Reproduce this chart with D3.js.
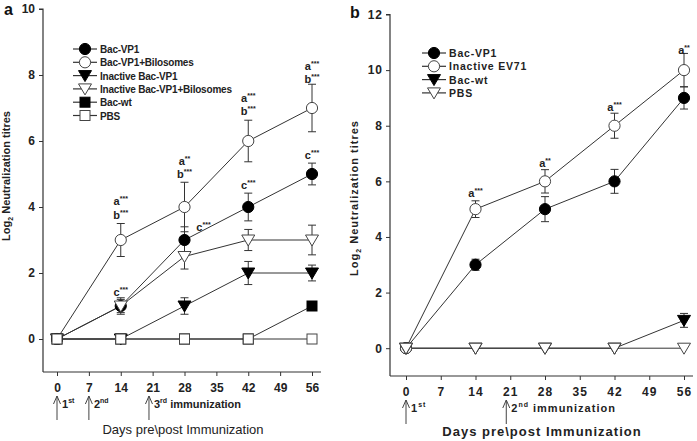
<!DOCTYPE html>
<html><head><meta charset="utf-8">
<script src="https://cdn.jsdelivr.net/npm/d3@7"></script>
<style>body{margin:0;background:#fff}svg{display:block}text{font-family:"Liberation Sans",Arial,sans-serif;fill:#222}</style>
</head><body><svg id="c" width="697" height="441"></svg>
<script>
// ---- data ----
const days = [0, 14, 28, 42, 56];
const xTicks = [0, 7, 14, 21, 28, 35, 42, 49, 56];
const yTicksA = [0, 2, 4, 6, 8, 10];
const yTicksB = [0, 2, 4, 6, 8, 10, 12];

// panel a
const aNames = ["Bac-VP1", "Bac-VP1+Bilosomes", "Inactive Bac-VP1", "Inactive Bac-VP1+Bilosomes", "Bac-wt", "PBS"];
const aBacVP1 = [0, 1, 3, 4, 5];
const aBacVP1Err = [0, 0.2, 0.4, 0.42, 0.33];
const aBacVP1Bil = [0, 3, 4, 6, 7];
const aBacVP1BilErr = [0, 0.5, 0.75, 0.63, 0.72];
const aInact = [0, 0, 1, 2, 2];
const aInactErr = [0, 0, 0.25, 0.35, 0.24];
const aInactBil = [0, 1, 2.5, 3, 3];
const aInactBilErr = [0, 0.25, 0.38, 0.32, 0.45];
const aBacWt = [0, 0, 0, 0, 1];
const aBacWtErr = [0, 0, 0, 0, 0];
const aPBS = [0, 0, 0, 0, 0];
const aPBSErr = [0, 0, 0, 0, 0];
// significance labels: [day, y (data units), letter, stars]
const aSig = [
  [14, 4.18, "a", "***"], [14, 3.76, "b", "***"], [14, 1.42, "c", "***"],
  [28, 5.4, "a", "**"], [28, 5.0, "b", "***"], [30.6, 3.39, "c", "***"],
  [42, 7.3, "a", "***"], [42, 6.9, "b", "***"], [42, 4.67, "c", "***"],
  [56, 8.28, "a", "***"], [56, 7.88, "b", "***"], [56, 5.58, "c", "***"]
];
const aImmun = [[0, "1", "st", ""], [7, "2", "nd", ""], [20.2, "3", "rd", " immunization"]];

// panel b
const bNames = ["Bac-VP1", "Inactive EV71", "Bac-wt", "PBS"];
const bBacVP1 = [0, 3, 5, 6, 9];
const bBacVP1Err = [0, 0.2, 0.45, 0.43, 0.4];
const bEV71 = [0, 5, 6, 8, 10];
const bEV71Err = [0, 0.3, 0.42, 0.45, 0.6];
const bBacWt = [0, 0, 0, 0, 1];
const bBacWtErr = [0, 0, 0, 0, 0.25];
const bPBS = [0, 0, 0, 0, 0];
const bPBSErr = [0, 0, 0, 0, 0];
const bSig = [[14, 5.59, "a", "***"], [28, 6.67, "a", "**"], [42, 8.69, "a", "***"], [56, 10.74, "a", "**"]];
const bImmun = [[0, "1", "st", ""], [20.2, "2", "nd", " immunization"]];

const svg = d3.select("#c");
const INK = "#333";

function drawMarker(g, type, x, y) {
  const s = 5.6;
  let el;
  if (type === "circle") el = g.append("circle").attr("cx", x).attr("cy", y).attr("r", s);
  else if (type === "square") el = g.append("rect").attr("x", x - 5).attr("y", y - 5).attr("width", 10).attr("height", 10);
  else el = g.append("path").attr("d", `M${x - 6.5},${y - 5}L${x + 6.5},${y - 5}L${x},${y + 6}Z`);
  return el;
}

function panel(cfg) {
  const g = svg.append("g");
  const x = d3.scaleLinear().domain([0, 56]).range(cfg.xr);
  const y = d3.scaleLinear().domain(cfg.yd).range(cfg.yr);
  const font = cfg.spacing;
  // axes
  const ay = g.append("g").attr("transform", `translate(${cfg.axX},0)`)
    .call(d3.axisLeft(y).tickValues(cfg.yTicks).tickSize(4).tickPadding(cfg.yPad));
  const ax = g.append("g").attr("transform", `translate(0,${cfg.yr[0]})`)
    .call(d3.axisBottom(x).tickValues(xTicks).tickSize(4).tickPadding(7));
  [ay, ax].forEach(a => {
    a.select(".domain").attr("stroke", INK).attr("stroke-width", 1.2);
    a.selectAll(".tick line").attr("stroke", INK);
    a.selectAll("text").style("font-size", "12px").style("font-weight", "bold")
      .style("fill", "#222").style("font-family", '"Liberation Sans",Arial,sans-serif')
      .style("letter-spacing", font);
  });
  ay.select(".domain").attr("d", `M-4,${y(cfg.yd[1])}H0V${cfg.yr[0]}`);
  ax.select(".domain").attr("d", `M${cfg.axX},0H${cfg.axR}`);

  // series
  cfg.series.forEach(s => {
    const pts = days.map((d, i) => [x(d), y(s.v[i])]);
    g.append("path").attr("d", d3.line()(pts))
      .attr("fill", "none").attr("stroke", INK).attr("stroke-width", 1);
  });
  cfg.series.forEach(s => {
    days.forEach((d, i) => {
      const e = s.e[i];
      if (e > 0) {
        const px = x(d), t = y(s.v[i] + e), b = y(s.v[i] - e);
        g.append("path").attr("d", `M${px},${t}V${b}M${px - 4},${t}H${px + 4}M${px - 4},${b}H${px + 4}`)
          .attr("stroke", INK).attr("stroke-width", 1).attr("fill", "none");
      }
    });
  });
  cfg.series.forEach(s => {
    days.forEach((d, i) => {
      drawMarker(g, s.type, x(d), y(s.v[i])).attr("fill", s.fill ? "#000" : "#fff")
        .attr("stroke", s.fill ? "#000" : "#444").attr("stroke-width", 1);
    });
  });

  // significance labels
  cfg.sig.forEach(([d, v, l, st]) => {
    const t = g.append("text").attr("x", x(d)).attr("y", y(v) + 4)
      .attr("text-anchor", cfg.sigAnchor(d)).style("font-size", "11px").style("font-weight", "bold");
    t.append("tspan").text(l);
    t.append("tspan").attr("dy", -4).style("font-size", "7px").text(st);
  });

  // legend
  cfg.names.forEach((n, i) => {
    const s = cfg.series[i];
    const ly = cfg.legY + i * 13.3;
    g.append("line").attr("x1", cfg.legX).attr("x2", cfg.legX + 24).attr("y1", ly).attr("y2", ly)
      .attr("stroke", INK).attr("stroke-width", 1.2);
    drawMarker(g, s.type, cfg.legX + 12, ly).attr("fill", s.fill ? "#000" : "#fff")
      .attr("stroke", s.fill ? "#000" : "#444");
    g.append("text").attr("x", cfg.legX + 27).attr("y", ly + 4).text(n)
      .style("font-size", cfg.legFont).style("font-weight", "bold").style("letter-spacing", cfg.legSpacing);
  });

  // immunization arrows
  cfg.immun.forEach(([d, num, sup, rest]) => {
    const px = x(d);
    g.append("path").attr("d", `M${px},${cfg.arrY}V${cfg.arrY + 24}M${px - 3.5},${cfg.arrY + 8}L${px},${cfg.arrY}L${px + 3.5},${cfg.arrY + 8}`)
      .attr("stroke", "#444").attr("fill", "none").attr("stroke-width", 1);
    const t = g.append("text").attr("x", px + 5).attr("y", cfg.arrY + 12)
      .style("font-size", "11px").style("font-weight", "bold").style("letter-spacing", font);
    t.append("tspan").text(num);
    t.append("tspan").attr("dy", -5).style("font-size", "7px").text(sup);
    if (rest) t.append("tspan").attr("dy", 5).text(rest);
  });

  // axis titles
  g.append("text").attr("x", cfg.titleX).attr("y", cfg.titleY).attr("text-anchor", "middle")
    .style("font-size", "13px").style("letter-spacing", font).style("font-weight", cfg.titleW)
    .text("Days pre\\post Immunization");
  const yt = g.append("text").attr("transform", `translate(${cfg.yTitleX},${cfg.yTitleY}) rotate(-90)`)
    .attr("text-anchor", "middle").style("font-size", "11px").style("font-weight", "bold").style("letter-spacing", font);
  yt.append("tspan").text("Log");
  yt.append("tspan").attr("dy", 3).style("font-size", "7px").text("2");
  yt.append("tspan").attr("dy", -3).text(" Neutralization titres");

  g.append("text").attr("x", cfg.labX).attr("y", cfg.labY).text(cfg.label)
    .style("font-size", "16px").style("font-weight", "bold").style("fill", "#111");
}

panel({
  xr: [57, 312], yd: [-1, 10], yr: [372, 9], axX: 43, axR: 321, yTicks: yTicksA, yPad: 4,
  spacing: "0px", legFont: "10px", legSpacing: "-0.2px",
  series: [
    {v: aBacVP1, e: aBacVP1Err, type: "circle", fill: true},
    {v: aBacVP1Bil, e: aBacVP1BilErr, type: "circle", fill: false},
    {v: aInact, e: aInactErr, type: "tri", fill: true},
    {v: aInactBil, e: aInactBilErr, type: "tri", fill: false},
    {v: aBacWt, e: aBacWtErr, type: "square", fill: true},
    {v: aPBS, e: aPBSErr, type: "square", fill: false}
  ],
  names: aNames, sig: aSig, sigAnchor: d => (d === 30.6 ? "start" : "middle"),
  legX: 73, legY: 49, immun: aImmun, arrY: 396,
  titleX: 183, titleY: 434, titleW: "normal", yTitleX: 10, yTitleY: 176,
  label: "a", labX: 4, labY: 15
});

panel({
  xr: [406, 684], yd: [-1, 12], yr: [376, 14.5], axX: 390, axR: 693, yTicks: yTicksB, yPad: 3,
  spacing: "1px", legFont: "10.5px", legSpacing: "0.8px",
  series: [
    {v: bBacVP1, e: bBacVP1Err, type: "circle", fill: true},
    {v: bEV71, e: bEV71Err, type: "circle", fill: false},
    {v: bBacWt, e: bBacWtErr, type: "tri", fill: true},
    {v: bPBS, e: bPBSErr, type: "tri", fill: false}
  ],
  names: bNames, sig: bSig, sigAnchor: () => "middle",
  legX: 422, legY: 53, immun: bImmun, arrY: 400,
  titleX: 542, titleY: 436, titleW: "bold", yTitleX: 358, yTitleY: 198,
  label: "b", labX: 350, labY: 18
});
</script></body></html>
